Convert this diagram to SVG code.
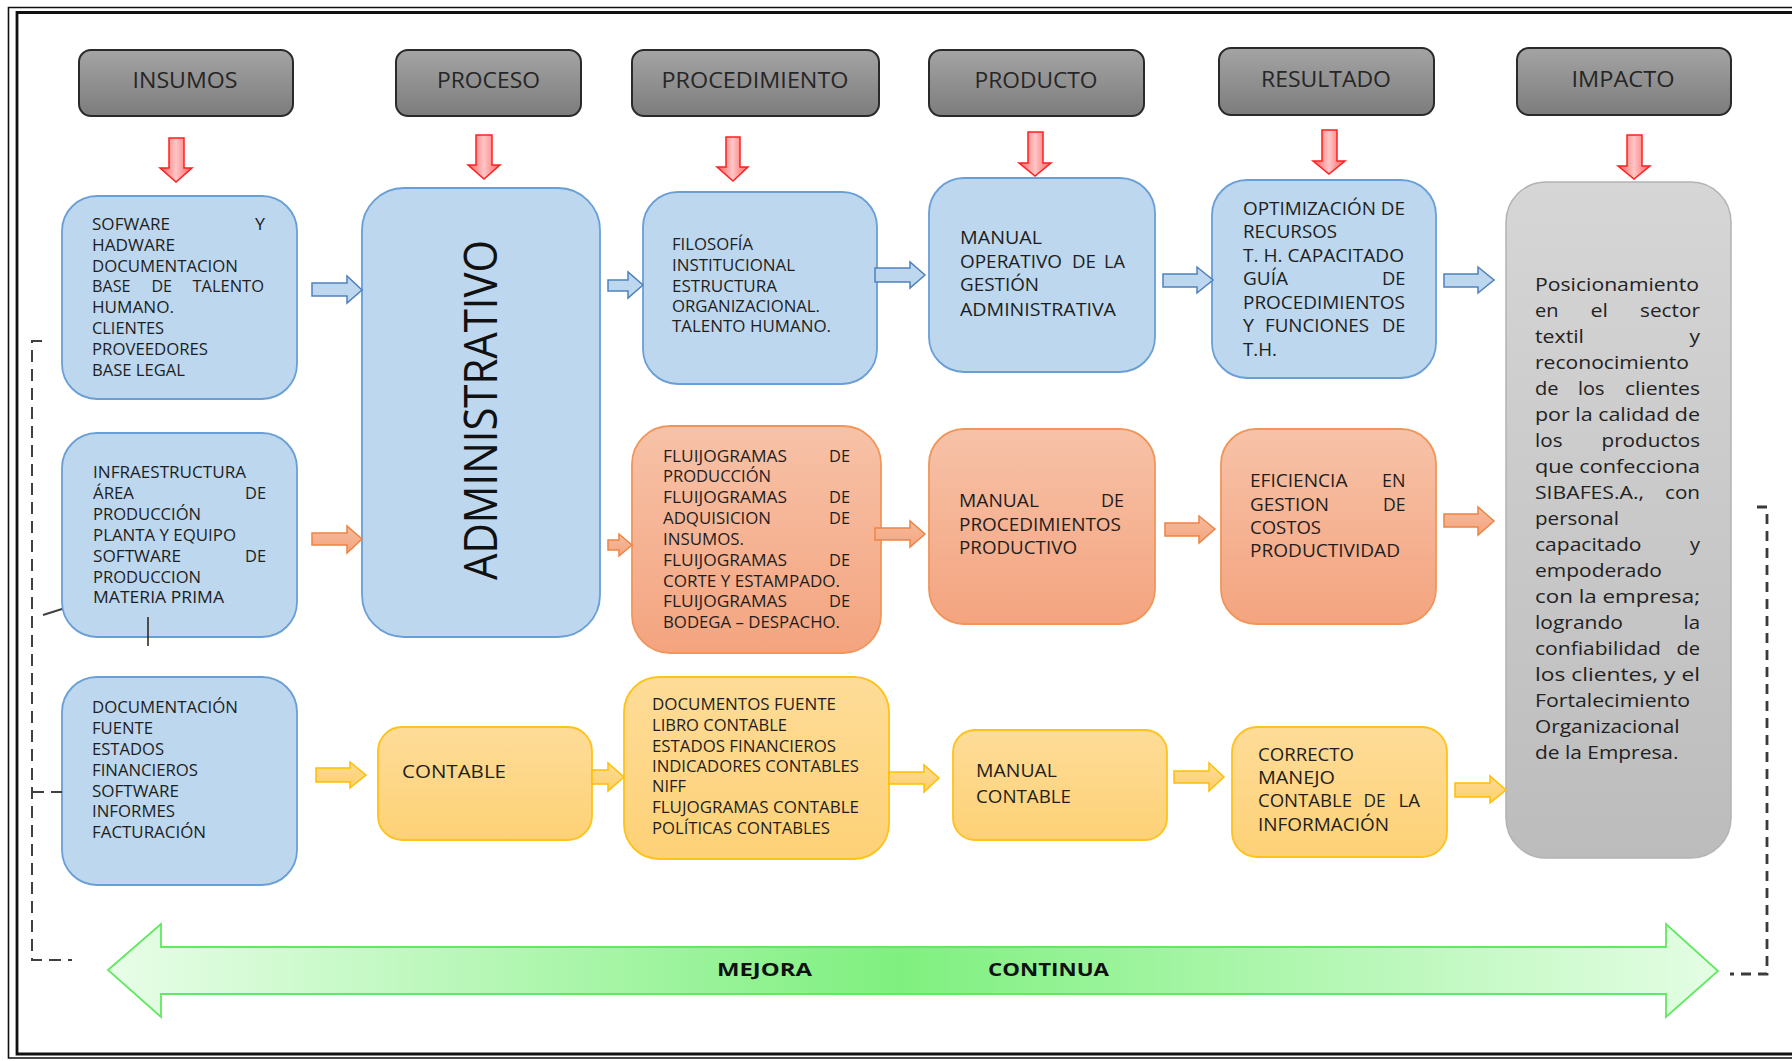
<svg xmlns="http://www.w3.org/2000/svg" width="1792" height="1061" viewBox="0 0 1792 1061">
  <defs>
    <linearGradient id="gHdr" x1="0" y1="0" x2="0" y2="1">
      <stop offset="0" stop-color="#a4a4a4"/>
      <stop offset="1" stop-color="#7c7c7c"/>
    </linearGradient>
    <linearGradient id="gOrg" x1="0" y1="0" x2="0" y2="1">
      <stop offset="0" stop-color="#f7c2a8"/>
      <stop offset="1" stop-color="#f4a47f"/>
    </linearGradient>
    <linearGradient id="gYel" x1="0" y1="0" x2="0" y2="1">
      <stop offset="0" stop-color="#fedc98"/>
      <stop offset="1" stop-color="#fdd176"/>
    </linearGradient>
    <linearGradient id="gGry" x1="0" y1="0" x2="0" y2="1">
      <stop offset="0" stop-color="#d6d6d6"/>
      <stop offset="1" stop-color="#bcbcbc"/>
    </linearGradient>
    <linearGradient id="gRed" x1="0" y1="0" x2="1" y2="0">
      <stop offset="0" stop-color="#ff5c5c"/>
      <stop offset="0.5" stop-color="#ffc6c6"/>
      <stop offset="1" stop-color="#ff5c5c"/>
    </linearGradient>
    <linearGradient id="gArO" x1="0" y1="0" x2="0" y2="1">
      <stop offset="0" stop-color="#f7bb9c"/>
      <stop offset="1" stop-color="#f4a57f"/>
    </linearGradient>
    <linearGradient id="gArY" x1="0" y1="0" x2="0" y2="1">
      <stop offset="0" stop-color="#fedb92"/>
      <stop offset="1" stop-color="#fdd06e"/>
    </linearGradient>
    <linearGradient id="gGrn" gradientUnits="userSpaceOnUse" x1="108" y1="0" x2="1718" y2="0">
      <stop offset="0" stop-color="#e8fde8"/>
      <stop offset="0.49" stop-color="#7ff07f"/>
      <stop offset="1" stop-color="#e4fde4"/>
    </linearGradient>
  </defs>
  <style>
    text { font-family: "Open Sans", "Liberation Sans", sans-serif; fill: #1e1e1e; }
    .hdr rect { fill: url(#gHdr); stroke: #2a2a2a; stroke-width: 2; }
    .hdr text { font-size: 21px; fill: #262626; text-anchor: middle; }
    .blue { fill: #bdd7ee; stroke: #6a9fd6; stroke-width: 1.8; }
    .orange { fill: url(#gOrg); stroke: #f0965a; stroke-width: 1.8; }
    .yellow { fill: url(#gYel); stroke: #ffc21a; stroke-width: 1.8; }
    .gray { fill: url(#gGry); stroke: #b3b3b3; stroke-width: 1.5; }
    .s { font-size: 16px; }
    .m { font-size: 18px; }
    .imp { font-size: 18.5px; fill: #222; }
    .big { font-size: 46px; fill: #111; }
    .ar { fill: url(#gRed); stroke: #ff1f1f; stroke-width: 1.5; }
    .ab { fill: #bdd7ee; stroke: #4f81bd; stroke-width: 1.5; }
    .ao { fill: url(#gArO); stroke: #ee8444; stroke-width: 1.5; }
    .ay { fill: url(#gArY); stroke: #ffbf00; stroke-width: 1.5; }
    .loop { fill: none; stroke: #404040; stroke-width: 2; stroke-dasharray: 12 7; }
    .loopR { fill: none; stroke: #3a3a3a; stroke-width: 2.8; stroke-dasharray: 10 7; }
    .frame { fill: none; stroke: #111; }
    .green { fill: url(#gGrn); stroke: #62e862; stroke-width: 1.8; }
    .gtxt { font-size: 18px; font-weight: bold; fill: #111; }
  </style>

  <!-- page frame (double rule, open on the right) -->
  <path class="frame" d="M1792,7.5 H8.5 V1058 H1792" stroke-width="1.6"/>
  <path class="frame" d="M1792,12.5 H17 V1054 H1792" stroke-width="2.8"/>

  <!-- column headers -->
  <g id="hdr-insumos" class="hdr"><rect x="79" y="50" width="214" height="66" rx="12"/><text x="185" y="88" textLength="105" lengthAdjust="spacingAndGlyphs">INSUMOS</text></g>
  <g id="hdr-proceso" class="hdr"><rect x="396" y="50" width="185" height="66" rx="12"/><text x="488.5" y="88" textLength="103" lengthAdjust="spacingAndGlyphs">PROCESO</text></g>
  <g id="hdr-procedimiento" class="hdr"><rect x="632" y="50" width="247" height="66" rx="12"/><text x="755" y="88" textLength="187" lengthAdjust="spacingAndGlyphs">PROCEDIMIENTO</text></g>
  <g id="hdr-producto" class="hdr"><rect x="929" y="50" width="215" height="66" rx="12"/><text x="1036" y="88" textLength="123" lengthAdjust="spacingAndGlyphs">PRODUCTO</text></g>
  <g id="hdr-resultado" class="hdr"><rect x="1219" y="48" width="215" height="67" rx="12"/><text x="1326" y="87" textLength="130" lengthAdjust="spacingAndGlyphs">RESULTADO</text></g>
  <g id="hdr-impacto" class="hdr"><rect x="1517" y="48" width="214" height="67" rx="12"/><text x="1623" y="87" textLength="103" lengthAdjust="spacingAndGlyphs">IMPACTO</text></g>

  <!-- insumos column -->
  <g id="in-admin">
    <rect class="blue" x="62" y="196" width="235" height="203" rx="35"/>
    <text class="s" x="92" y="230" textLength="78" lengthAdjust="spacingAndGlyphs">SOFWARE</text>
    <text class="s" x="255" y="230" textLength="10" lengthAdjust="spacingAndGlyphs">Y</text>
    <text class="s" x="92" y="251" textLength="83" lengthAdjust="spacingAndGlyphs">HADWARE</text>
    <text class="s" x="92" y="272" textLength="146" lengthAdjust="spacingAndGlyphs">DOCUMENTACION</text>
    <text class="s" x="92" y="292" textLength="38.5" lengthAdjust="spacingAndGlyphs">BASE</text>
    <text class="s" x="151.5" y="292" textLength="20.5" lengthAdjust="spacingAndGlyphs">DE</text>
    <text class="s" x="192.5" y="292" textLength="71.5" lengthAdjust="spacingAndGlyphs">TALENTO</text>
    <text class="s" x="92" y="313" textLength="82" lengthAdjust="spacingAndGlyphs">HUMANO.</text>
    <text class="s" x="92" y="334" textLength="72" lengthAdjust="spacingAndGlyphs">CLIENTES</text>
    <text class="s" x="92" y="355" textLength="116" lengthAdjust="spacingAndGlyphs">PROVEEDORES</text>
    <text class="s" x="92" y="376" textLength="93" lengthAdjust="spacingAndGlyphs">BASE LEGAL</text>
  </g>
  <g id="in-prod">
    <rect class="blue" x="62" y="433" width="235" height="204" rx="35"/>
    <text class="s" x="93" y="478" textLength="153" lengthAdjust="spacingAndGlyphs">INFRAESTRUCTURA</text>
    <text class="s" x="93" y="499" textLength="41" lengthAdjust="spacingAndGlyphs">ÁREA</text>
    <text class="s" x="245" y="499" textLength="21" lengthAdjust="spacingAndGlyphs">DE</text>
    <text class="s" x="93" y="520" textLength="108" lengthAdjust="spacingAndGlyphs">PRODUCCIÓN</text>
    <text class="s" x="93" y="541" textLength="143" lengthAdjust="spacingAndGlyphs">PLANTA Y EQUIPO</text>
    <text class="s" x="93" y="562" textLength="88" lengthAdjust="spacingAndGlyphs">SOFTWARE</text>
    <text class="s" x="245" y="562" textLength="21" lengthAdjust="spacingAndGlyphs">DE</text>
    <text class="s" x="93" y="583" textLength="108" lengthAdjust="spacingAndGlyphs">PRODUCCION</text>
    <text class="s" x="93" y="603" textLength="131" lengthAdjust="spacingAndGlyphs">MATERIA PRIMA</text>
    <line x1="148" y1="617" x2="148" y2="646" stroke="#2b1d10" stroke-width="1.5"/>
  </g>
  <g id="in-cont">
    <rect class="blue" x="62" y="677" width="235" height="208" rx="35"/>
    <text class="s" x="92" y="713" textLength="146" lengthAdjust="spacingAndGlyphs">DOCUMENTACIÓN</text>
    <text class="s" x="92" y="734" textLength="61" lengthAdjust="spacingAndGlyphs">FUENTE</text>
    <text class="s" x="92" y="755" textLength="72" lengthAdjust="spacingAndGlyphs">ESTADOS</text>
    <text class="s" x="92" y="776" textLength="106" lengthAdjust="spacingAndGlyphs">FINANCIEROS</text>
    <text class="s" x="92" y="797" textLength="87" lengthAdjust="spacingAndGlyphs">SOFTWARE</text>
    <text class="s" x="92" y="817" textLength="83" lengthAdjust="spacingAndGlyphs">INFORMES</text>
    <text class="s" x="92" y="838" textLength="114" lengthAdjust="spacingAndGlyphs">FACTURACIÓN</text>
  </g>

  <!-- proceso column -->
  <g id="proc-admin">
    <rect class="blue" x="362" y="188" width="238" height="449" rx="42"/>
    <text class="big" transform="translate(497,410) rotate(-90)" text-anchor="middle" textLength="340" lengthAdjust="spacingAndGlyphs">ADMINISTRATIVO</text>
  </g>
  <g id="proc-cont">
    <rect class="yellow" x="378" y="727" width="214" height="113" rx="24"/>
    <text class="m" x="402" y="778" textLength="104" lengthAdjust="spacingAndGlyphs">CONTABLE</text>
  </g>

  <!-- procedimiento column -->
  <g id="pd-admin">
    <rect class="blue" x="643" y="192" width="234" height="192" rx="35"/>
    <text class="s" x="672" y="250" textLength="81" lengthAdjust="spacingAndGlyphs">FILOSOFÍA</text>
    <text class="s" x="672" y="271" textLength="123" lengthAdjust="spacingAndGlyphs">INSTITUCIONAL</text>
    <text class="s" x="672" y="292" textLength="105" lengthAdjust="spacingAndGlyphs">ESTRUCTURA</text>
    <text class="s" x="672" y="312" textLength="148" lengthAdjust="spacingAndGlyphs">ORGANIZACIONAL.</text>
    <text class="s" x="672" y="332" textLength="159" lengthAdjust="spacingAndGlyphs">TALENTO HUMANO.</text>
  </g>
  <g id="pd-prod">
    <rect class="orange" x="632" y="426" width="249" height="227" rx="38"/>
    <text class="s" x="663" y="462" textLength="124" lengthAdjust="spacingAndGlyphs">FLUIJOGRAMAS</text>
    <text class="s" x="829" y="462" textLength="21" lengthAdjust="spacingAndGlyphs">DE</text>
    <text class="s" x="663" y="482" textLength="108" lengthAdjust="spacingAndGlyphs">PRODUCCIÓN</text>
    <text class="s" x="663" y="503" textLength="124" lengthAdjust="spacingAndGlyphs">FLUIJOGRAMAS</text>
    <text class="s" x="829" y="503" textLength="21" lengthAdjust="spacingAndGlyphs">DE</text>
    <text class="s" x="663" y="524" textLength="108" lengthAdjust="spacingAndGlyphs">ADQUISICION</text>
    <text class="s" x="829" y="524" textLength="21" lengthAdjust="spacingAndGlyphs">DE</text>
    <text class="s" x="663" y="545" textLength="81" lengthAdjust="spacingAndGlyphs">INSUMOS.</text>
    <text class="s" x="663" y="566" textLength="124" lengthAdjust="spacingAndGlyphs">FLUIJOGRAMAS</text>
    <text class="s" x="829" y="566" textLength="21" lengthAdjust="spacingAndGlyphs">DE</text>
    <text class="s" x="663" y="587" textLength="177" lengthAdjust="spacingAndGlyphs">CORTE Y ESTAMPADO.</text>
    <text class="s" x="663" y="607" textLength="124" lengthAdjust="spacingAndGlyphs">FLUIJOGRAMAS</text>
    <text class="s" x="829" y="607" textLength="21" lengthAdjust="spacingAndGlyphs">DE</text>
    <text class="s" x="663" y="628" textLength="177" lengthAdjust="spacingAndGlyphs">BODEGA – DESPACHO.</text>
  </g>
  <g id="pd-cont">
    <rect class="yellow" x="624" y="677" width="265" height="182" rx="35"/>
    <text class="s" x="652" y="710" textLength="184" lengthAdjust="spacingAndGlyphs">DOCUMENTOS FUENTE</text>
    <text class="s" x="652" y="731" textLength="135" lengthAdjust="spacingAndGlyphs">LIBRO CONTABLE</text>
    <text class="s" x="652" y="752" textLength="184" lengthAdjust="spacingAndGlyphs">ESTADOS FINANCIEROS</text>
    <text class="s" x="652" y="772" textLength="207" lengthAdjust="spacingAndGlyphs">INDICADORES CONTABLES</text>
    <text class="s" x="652" y="792" textLength="34" lengthAdjust="spacingAndGlyphs">NIFF</text>
    <text class="s" x="652" y="813" textLength="207" lengthAdjust="spacingAndGlyphs">FLUJOGRAMAS CONTABLE</text>
    <text class="s" x="652" y="834" textLength="178" lengthAdjust="spacingAndGlyphs">POLÍTICAS CONTABLES</text>
  </g>

  <!-- producto column -->
  <g id="pr-admin">
    <rect class="blue" x="929" y="178" width="226" height="194" rx="35"/>
    <text class="m" x="960" y="244" textLength="82" lengthAdjust="spacingAndGlyphs">MANUAL</text>
    <text class="m" x="960" y="268" textLength="102" lengthAdjust="spacingAndGlyphs">OPERATIVO</text>
    <text class="m" x="1072" y="268" textLength="24" lengthAdjust="spacingAndGlyphs">DE</text>
    <text class="m" x="1104" y="268" textLength="21" lengthAdjust="spacingAndGlyphs">LA</text>
    <text class="m" x="960" y="291" textLength="79" lengthAdjust="spacingAndGlyphs">GESTIÓN</text>
    <text class="m" x="960" y="316" textLength="156" lengthAdjust="spacingAndGlyphs">ADMINISTRATIVA</text>
  </g>
  <g id="pr-prod">
    <rect class="orange" x="929" y="429" width="226" height="195" rx="35"/>
    <text class="m" x="959" y="507" textLength="80" lengthAdjust="spacingAndGlyphs">MANUAL</text>
    <text class="m" x="1101" y="507" textLength="23" lengthAdjust="spacingAndGlyphs">DE</text>
    <text class="m" x="959" y="531" textLength="162" lengthAdjust="spacingAndGlyphs">PROCEDIMIENTOS</text>
    <text class="m" x="959" y="554" textLength="118" lengthAdjust="spacingAndGlyphs">PRODUCTIVO</text>
  </g>
  <g id="pr-cont">
    <rect class="yellow" x="953" y="730" width="214" height="110" rx="22"/>
    <text class="m" x="976" y="777" textLength="81" lengthAdjust="spacingAndGlyphs">MANUAL</text>
    <text class="m" x="976" y="803" textLength="95" lengthAdjust="spacingAndGlyphs">CONTABLE</text>
  </g>

  <!-- resultado column -->
  <g id="re-admin">
    <rect class="blue" x="1212" y="180" width="224" height="198" rx="35"/>
    <text class="m" x="1243" y="215" textLength="162" lengthAdjust="spacingAndGlyphs">OPTIMIZACIÓN DE</text>
    <text class="m" x="1243" y="238" textLength="94" lengthAdjust="spacingAndGlyphs">RECURSOS</text>
    <text class="m" x="1243" y="262" textLength="161" lengthAdjust="spacingAndGlyphs">T. H. CAPACITADO</text>
    <text class="m" x="1243" y="285" textLength="45" lengthAdjust="spacingAndGlyphs">GUÍA</text>
    <text class="m" x="1382" y="285" textLength="23.5" lengthAdjust="spacingAndGlyphs">DE</text>
    <text class="m" x="1243" y="309" textLength="162" lengthAdjust="spacingAndGlyphs">PROCEDIMIENTOS</text>
    <text class="m" x="1243" y="332" textLength="11" lengthAdjust="spacingAndGlyphs">Y</text>
    <text class="m" x="1265" y="332" textLength="104" lengthAdjust="spacingAndGlyphs">FUNCIONES</text>
    <text class="m" x="1382" y="332" textLength="23.5" lengthAdjust="spacingAndGlyphs">DE</text>
    <text class="m" x="1243" y="356" textLength="34" lengthAdjust="spacingAndGlyphs">T.H.</text>
  </g>
  <g id="re-prod">
    <rect class="orange" x="1221" y="429" width="215" height="195" rx="35"/>
    <text class="m" x="1250" y="487" textLength="97.5" lengthAdjust="spacingAndGlyphs">EFICIENCIA</text>
    <text class="m" x="1382" y="487" textLength="23.5" lengthAdjust="spacingAndGlyphs">EN</text>
    <text class="m" x="1250" y="511" textLength="79" lengthAdjust="spacingAndGlyphs">GESTION</text>
    <text class="m" x="1383" y="511" textLength="22.5" lengthAdjust="spacingAndGlyphs">DE</text>
    <text class="m" x="1250" y="534" textLength="71" lengthAdjust="spacingAndGlyphs">COSTOS</text>
    <text class="m" x="1250" y="557" textLength="150" lengthAdjust="spacingAndGlyphs">PRODUCTIVIDAD</text>
  </g>
  <g id="re-cont">
    <rect class="yellow" x="1232" y="727" width="215" height="130" rx="25"/>
    <text class="m" x="1258" y="761" textLength="96" lengthAdjust="spacingAndGlyphs">CORRECTO</text>
    <text class="m" x="1258" y="784" textLength="77" lengthAdjust="spacingAndGlyphs">MANEJO</text>
    <text class="m" x="1258" y="807" textLength="94" lengthAdjust="spacingAndGlyphs">CONTABLE</text>
    <text class="m" x="1363.5" y="807" textLength="22" lengthAdjust="spacingAndGlyphs">DE</text>
    <text class="m" x="1398.5" y="807" textLength="21.5" lengthAdjust="spacingAndGlyphs">LA</text>
    <text class="m" x="1258" y="831" textLength="131" lengthAdjust="spacingAndGlyphs">INFORMACIÓN</text>
  </g>

  <!-- impacto column -->
  <g id="impacto">
    <rect class="gray" x="1506" y="182" width="225" height="676" rx="40"/>
    <text class="imp" x="1535" y="291" textLength="164" lengthAdjust="spacingAndGlyphs">Posicionamiento</text>
    <text class="imp" x="1535" y="317" textLength="23.5" lengthAdjust="spacingAndGlyphs">en</text>
    <text class="imp" x="1590.5" y="317" textLength="17.5" lengthAdjust="spacingAndGlyphs">el</text>
    <text class="imp" x="1640" y="317" textLength="60" lengthAdjust="spacingAndGlyphs">sector</text>
    <text class="imp" x="1535" y="343" textLength="49" lengthAdjust="spacingAndGlyphs">textil</text>
    <text class="imp" x="1689.5" y="343" textLength="10.5" lengthAdjust="spacingAndGlyphs">y</text>
    <text class="imp" x="1535" y="369" textLength="154" lengthAdjust="spacingAndGlyphs">reconocimiento</text>
    <text class="imp" x="1535" y="395" textLength="23.5" lengthAdjust="spacingAndGlyphs">de</text>
    <text class="imp" x="1578" y="395" textLength="26.5" lengthAdjust="spacingAndGlyphs">los</text>
    <text class="imp" x="1625" y="395" textLength="75" lengthAdjust="spacingAndGlyphs">clientes</text>
    <text class="imp" x="1535" y="421" textLength="165" lengthAdjust="spacingAndGlyphs">por la calidad de</text>
    <text class="imp" x="1535" y="447" textLength="27.5" lengthAdjust="spacingAndGlyphs">los</text>
    <text class="imp" x="1601.5" y="447" textLength="98.5" lengthAdjust="spacingAndGlyphs">productos</text>
    <text class="imp" x="1535" y="473" textLength="165" lengthAdjust="spacingAndGlyphs">que confecciona</text>
    <text class="imp" x="1535" y="499" textLength="109" lengthAdjust="spacingAndGlyphs">SIBAFES.A.,</text>
    <text class="imp" x="1665" y="499" textLength="35" lengthAdjust="spacingAndGlyphs">con</text>
    <text class="imp" x="1535" y="525" textLength="84" lengthAdjust="spacingAndGlyphs">personal</text>
    <text class="imp" x="1535" y="551" textLength="106.5" lengthAdjust="spacingAndGlyphs">capacitado</text>
    <text class="imp" x="1690" y="551" textLength="10" lengthAdjust="spacingAndGlyphs">y</text>
    <text class="imp" x="1535" y="577" textLength="127" lengthAdjust="spacingAndGlyphs">empoderado</text>
    <text class="imp" x="1535" y="603" textLength="165" lengthAdjust="spacingAndGlyphs">con la empresa;</text>
    <text class="imp" x="1535" y="629" textLength="88" lengthAdjust="spacingAndGlyphs">logrando</text>
    <text class="imp" x="1683.5" y="629" textLength="16.5" lengthAdjust="spacingAndGlyphs">la</text>
    <text class="imp" x="1535" y="655" textLength="126" lengthAdjust="spacingAndGlyphs">confiabilidad</text>
    <text class="imp" x="1676.5" y="655" textLength="23.5" lengthAdjust="spacingAndGlyphs">de</text>
    <text class="imp" x="1535" y="681" textLength="165" lengthAdjust="spacingAndGlyphs">los clientes, y el</text>
    <text class="imp" x="1535" y="707" textLength="155" lengthAdjust="spacingAndGlyphs">Fortalecimiento</text>
    <text class="imp" x="1535" y="733" textLength="144.5" lengthAdjust="spacingAndGlyphs">Organizacional</text>
    <text class="imp" x="1535" y="759" textLength="143.5" lengthAdjust="spacingAndGlyphs">de la Empresa.</text>
  </g>

  <!-- connectors -->
  <g id="connectors">
    <!-- header to column arrows -->
    <path class="ar" d="M169,138 H184 V168 H192 L176,182 L160,168 H169 Z"/>
    <path class="ar" d="M476,135 H492 V165 H500 L484,179 L468,165 H476 Z"/>
    <path class="ar" d="M726,137 H740 V167 H748 L733,181 L717,167 H726 Z"/>
    <path class="ar" d="M1028,132 H1043 V163 H1051 L1035,176 L1019,163 H1028 Z"/>
    <path class="ar" d="M1322,130 H1337 V161 H1345 L1329,174 L1313,161 H1322 Z"/>
    <path class="ar" d="M1627,135 H1642 V166 H1650 L1634,179 L1618,166 H1627 Z"/>

    <!-- administrative row -->
    <path class="ab" d="M312,283 H347 V276 L362,290 L347,303 V296 H312 Z"/>
    <path class="ab" d="M608,280 H628 V272 L643,285 L628,298 V291 H608 Z"/>
    <path class="ab" d="M875,268 H910 V262 L925,275 L910,288 V282 H875 Z"/>
    <path class="ab" d="M1163,274 H1197 V267 L1213,280 L1197,293 V287 H1163 Z"/>
    <path class="ab" d="M1444,274 H1478 V267 L1494,280 L1478,293 V287 H1444 Z"/>

    <!-- production row -->
    <path class="ao" d="M312,533 H347 V526 L362,539 L347,553 V545 H312 Z"/>
    <path class="ao" d="M608,540 H619 V534 L632,545 L619,556 V550 H608 Z"/>
    <path class="ao" d="M875,528 H910 V521 L925,534 L910,547 V540 H875 Z"/>
    <path class="ao" d="M1165,523 H1199 V516 L1215,529 L1199,543 V536 H1165 Z"/>
    <path class="ao" d="M1444,514 H1478 V507 L1494,521 L1478,535 V527 H1444 Z"/>

    <!-- accounting row -->
    <path class="ay" d="M316,768 H350 V762 L366,775 L350,788 V782 H316 Z"/>
    <path class="ay" d="M592,770 H608 V763 L624,777 L608,791 V784 H592 Z"/>
    <path class="ay" d="M889,772 H924 V765 L939,778 L924,792 V784 H889 Z"/>
    <path class="ay" d="M1174,771 H1209 V763 L1224,777 L1209,791 V783 H1174 Z"/>
    <path class="ay" d="M1455,783 H1490 V776 L1506,790 L1490,803 V797 H1455 Z"/>

    <!-- continuous improvement loop -->
    <path class="loop" d="M42,341 H32 V960 H72"/>
    <path class="loop" d="M32,792 H62"/>
    <path d="M43,615 L62,609" stroke="#404040" stroke-width="2" fill="none"/>
    <path class="loopR" d="M1757,507 H1767 V974 H1730"/>

    <path class="green" d="M108,970 L161,924 V947 H1666 V924 L1718,971 L1666,1017 V994 H161 V1017 Z"/>
    <text class="gtxt" x="717" y="976" textLength="95" lengthAdjust="spacingAndGlyphs">MEJORA</text>
    <text class="gtxt" x="988" y="976" textLength="121" lengthAdjust="spacingAndGlyphs">CONTINUA</text>
  </g>
</svg>
